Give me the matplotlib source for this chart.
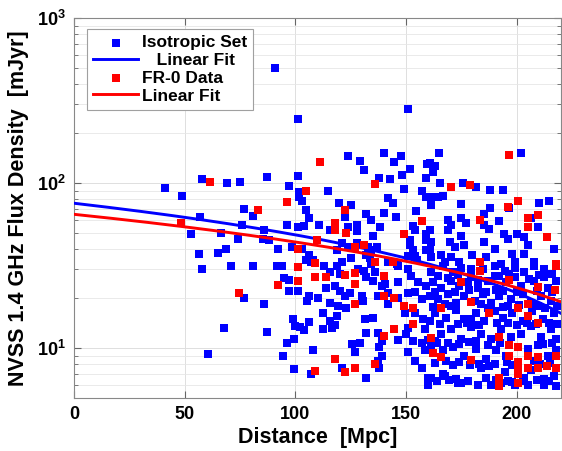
import numpy as np
import matplotlib
matplotlib.use("Agg")
import matplotlib.pyplot as plt

plt.rcParams["font.family"] = ["Liberation Sans", "DejaVu Sans"]
plt.rcParams["font.weight"] = "bold"
plt.rcParams["mathtext.fontset"] = "custom"
plt.rcParams["mathtext.rm"] = "Liberation Sans:bold"
plt.rcParams["mathtext.it"] = "Liberation Sans:bold"
plt.rcParams["mathtext.bf"] = "Liberation Sans:bold"
plt.rcParams["mathtext.sf"] = "Liberation Sans:bold"

# Isotropic set: distance [Mpc] and NVSS flux [mJy]
iso_dist = [
    91, 101, 151, 41, 49, 58, 69, 75, 87, 97,
    101, 101.6, 101.6, 103, 105, 106, 104, 101, 96, 76.6,
    81, 76, 57, 66.5, 74, 53, 86, 85.6, 88, 92,
    98.6, 103, 68.5, 65, 56.6, 106, 105, 107, 71, 81,
    91.5, 94, 58, 95, 97, 97, 101, 77, 86, 106,
    105.4, 99, 100, 102, 104, 106, 67.6, 87, 99.4, 96.4,
    108, 60.5, 94.6, 99.4, 107,
    123.6, 129, 131, 140, 144.6, 147.6, 152, 159.6, 137.7, 142.6,
    148, 158.9, 114.6, 149, 157, 159, 142, 144, 119.7, 125,
    154.5, 140, 132, 134, 145.6, 122.4, 110.7, 128, 124, 138.4,
    128, 115.6, 135, 153, 154, 152, 152, 153, 154, 159,
    159, 159, 121, 124, 128, 133, 134, 137, 108, 119,
    121, 125, 132, 133.6, 134, 142, 146, 151, 155,
    165, 202, 161, 163, 162, 165.5, 175.7, 181.7, 188, 193.7,
    160.7, 164.4, 166.7, 161.4, 175, 188, 185.4, 196.7, 210, 214.7,
    169, 170.4, 175, 177, 185.4, 187.7, 192, 160.7, 161.4, 160.7,
    169, 169.7, 175, 194.4, 196, 200, 203.5, 205, 203.5, 209.5,
    206.4, 216.7, 172, 176.4, 185.4, 190, 161.4, 166, 170.4, 180,
    186, 198, 199, 208, 193, 167.4, 174,
    113, 118.6, 115.6, 120, 114, 118, 120, 122.4, 128.4, 131,
    132, 130, 130.6, 136, 139, 137.4, 115.6, 119.4, 123, 112.6,
    115.6, 118.6, 118, 131.4, 135, 142, 146.4, 151, 149.4, 154,
    157.7, 146.4, 150, 153, 157, 158.4, 151, 132, 137.4, 139,
    125.4, 129, 127, 138, 139, 137.4, 138, 121, 132, 160,
    160, 167.4, 173.4, 155.4, 159, 157, 151, 152.4, 146.4,
    110.4, 112.6, 116.4, 124.6, 142, 146.4, 135, 140.4, 154, 158.4,
    160, 151, 154, 157,
    161.4, 166.7, 171, 175, 179.4, 184.7, 190, 194.5, 199, 203.5, 208, 212.5, 216,
    162, 166, 170.4, 174, 178, 182.4, 187, 190.7, 195, 202, 208, 214, 217.7,
    160.7, 164.4, 169, 172.7, 176.4, 181, 184.7, 188.4, 192, 197.4, 202.7, 206.4, 211, 215.5,
    163, 168, 172.7, 176.4, 181.7, 185.4, 190, 193.7, 198, 202.7, 207, 211.7, 217,
    166, 170.4, 175, 179.4, 184, 188.4, 193, 202, 206.4, 211, 215.5,
    161.4, 166.7, 171, 176.4, 181.7, 186, 190.7, 195, 205, 209.5, 214, 217.7,
    161.4, 166.7, 172.7, 184, 186, 194.5, 198, 203.5, 206.4, 212.5, 217, 188.4, 193, 205, 212.5,
    164.4, 179.4, 190, 199, 212.5, 167.4, 184, 196, 209.5, 160.7, 179.4, 196, 214.7,
    163, 181.7, 197.4, 217.7, 168, 178.7, 190, 198, 208, 175, 182.4, 199, 217.7,
    168.9, 173.4, 182.4, 192.2, 196.7, 205.7, 210.2,
    163, 172, 178.5, 186, 194, 200, 209, 216,
    162, 170.5, 187, 194, 201, 213, 218,
    165.5, 173.5, 177.5, 183, 191, 200, 204.5, 208.5, 218,
    164, 168.8, 173.8, 178.5, 187, 192.5, 212, 216,
    163, 171, 174, 183, 187.5, 195.5, 210.7, 215,
    164, 169.5, 178, 190.5, 196, 203, 209, 214.5,
]
iso_flux = [
    495, 245, 279, 93, 84, 106, 100, 102, 109, 96,
    111, 88, 82, 78, 69, 61, 55, 54, 56, 70,
    63, 56, 62, 50, 46, 49, 52, 46, 45, 40,
    41, 40, 40, 37.5, 37, 36.5, 34, 33, 31.6, 31.6,
    31.6, 31.6, 30, 26.6, 26, 22.3, 22.3, 20, 18.6, 20.7,
    19.2, 15, 13.6, 13.4, 12.9, 14.3, 13.2, 12.5, 11.3, 10.8,
    9.7, 9.2, 8.9, 7.5, 7.0,
    145, 136, 120, 152, 135, 146, 121, 131, 107, 106,
    112, 107, 89, 92, 89, 82, 81, 76, 76, 74,
    68, 66, 65, 60, 62, 62, 56, 56, 54, 54,
    51, 52, 47.5, 55, 52, 45, 42, 39, 36, 49.3,
    45, 39, 43, 41, 43, 41, 39, 41, 34, 39,
    33, 35, 36.5, 35, 32.5, 33, 32.5, 36, 34,
    152, 152, 132, 127, 117, 99.6, 99.6, 94, 90.6, 90.6,
    82, 82, 84, 73.4, 74.5, 71, 65.3, 71, 76, 78,
    59.4, 55.5, 61.7, 57, 55.5, 53, 59, 51.6, 44, 39,
    51.6, 44, 48, 49, 46, 49, 47, 42, 37.3, 54,
    61, 40, 41, 42, 44, 40, 35.5, 36.5, 35.5, 36.5,
    35.5, 37.3, 33, 33, 32.5, 33, 33,
    31.5, 31.5, 28.7, 28, 23, 23.7, 22.2, 20.7, 30, 29.4,
    26.8, 20.7, 19.3, 28.7, 23.8, 20.7, 18.7, 18, 17.6, 16.3,
    14.6, 15.6, 13.7, 15, 15.3, 18.4, 20, 21.6, 16.3, 16.3,
    15, 11.2, 12.2, 11.1, 10.8, 9.7, 13.3, 12.4, 12.4, 11,
    10.6, 10.8, 9.5, 10.1, 9.0, 8.4, 7.6, 7.6, 6.6, 6.6,
    6.0, 6.8, 6.1, 25, 23.8, 19.8, 30, 27.4, 31.5,
    20, 13, 13.3, 21.6, 21.6, 25, 25.5, 24.3, 22, 13,
    11.2, 9.5, 8.3, 7.6,
    28.7, 31.5, 28.7, 30.7, 30, 30, 31.5, 29.3, 30.7, 28.7, 31.5, 30, 28,
    25, 23, 25.6, 23.8, 25, 23, 25.6, 22.5, 25, 23.8, 25.6, 23, 25.6,
    20.7, 19.8, 21.2, 18.7, 20.7, 19.3, 21.2, 18.7, 20.7, 19.8, 21.2, 18.7, 20.7, 19.3,
    16.3, 15.3, 17.1, 15.0, 16.3, 14.6, 16.7, 15.3, 16.3, 14.6, 16.7, 15.0, 16.3,
    12.2, 13.0, 11.4, 13.4, 12.2, 11.4, 13.0, 12.2, 13.6, 11.6, 13.0,
    10.4, 9.7, 10.2, 9.0, 9.9, 8.6, 9.7, 9.0, 9.9, 10.4, 9.0, 9.7,
    6.6, 7.0, 6.5, 7.6, 6.6, 7.2, 6.2, 6.6, 7.4, 6.5, 6.8, 6.0, 6.1, 6.0, 6.0,
    27.4, 26.8, 27.4, 26.8, 26.8, 18.4, 18.4, 18, 18, 14.6, 15, 14.2, 14.2,
    11.1, 11.1, 11.6, 11.3, 8.3, 7.9, 8.0, 7.9, 8.3, 6.1, 6.0, 6.0, 5.9,
    26.5, 27.8, 26.0, 27.2, 28.0, 26.3, 27.6,
    22, 21.8, 22.4, 21.9, 22.3, 21.7, 22.1, 21.8,
    17.8, 17.9, 17.5, 17.8, 18.2, 17.6, 17.9,
    14.0, 13.9, 14.1, 13.8, 14.2, 13.7, 14.1, 13.9, 14.0,
    10.8, 10.7, 10.6, 10.9, 10.5, 10.8, 10.6, 10.7,
    8.1, 7.9, 8.2, 8.0, 7.8, 8.2, 8.0, 8.1,
    6.3, 6.4, 6.3, 6.4, 6.35, 6.3, 6.4, 6.3,
]

# FR-0 sources
fr0_dist = [
    61.6, 111, 105, 96.4, 83, 48.5, 101, 101, 109, 109,
    101, 92, 74.6, 109, 136, 122.4, 118, 118, 123, 157,
    149, 131, 109.6, 127, 136, 144, 196.4, 170.4, 179, 196,
    200.7, 183.5, 205, 209.5, 205, 213.6, 183.5, 217.7, 114, 122.4,
    127, 127, 140, 140, 144.6, 127, 149, 153, 153, 144.6,
    140, 118, 122.4, 127, 136, 183.6, 175, 196.4, 217.7, 209.5,
    217.4, 179.4, 166, 205, 200.7, 187.7, 205, 209.5, 192, 161.4,
    196.7, 200.7, 196.7, 162, 166, 179.4, 200.7, 200.7, 205, 209.5,
    205, 209.5, 213.6, 217.7, 217.7, 192, 192, 200.7, 200.7,
]
fr0_flux = [
    102, 134, 90, 77, 69, 57, 40, 31, 32.6, 26.9,
    25.3, 24.1, 21.6, 7.3, 98, 69, 57.3, 52, 50, 59,
    49.4, 42, 45, 41, 33, 33, 147, 95, 97, 72,
    78, 60, 61.4, 64, 54, 47, 33, 32.5, 26.8, 27.6,
    28.3, 24.4, 27.4, 20.7, 20, 18.4, 18, 17.6, 14.0, 13.1,
    11.8, 8.6, 7.2, 7.6, 8.0, 29.3, 25, 25.9, 31.5, 23.5,
    22.6, 19, 17.6, 18.4, 17.4, 16.3, 15.6, 14.2, 11.6, 11.5,
    10.4, 10.2, 9.0, 9.3, 8.8, 8.5, 8.2, 7.6, 9.0, 8.8,
    7.6, 7.6, 7.8, 9.0, 7.6, 6.6, 5.9, 7.0, 6.1,
]
assert len(iso_dist) == len(iso_flux)
assert len(fr0_dist) == len(fr0_flux)

# linear fits: intercept, slope (mJy per Mpc)
iso_fit = [75.4, -0.269]
fr0_fit = [64.6, -0.207]

fig = plt.figure(figsize=(5.62, 4.51), dpi=100)
ax = fig.add_axes([0.1317, 0.1182, 0.8665, 0.8419])

xs = np.linspace(0, 220, 300)
ax.scatter(iso_dist, iso_flux, marker="s", s=34, c="#0000ff", linewidths=0,
           zorder=3, label="Isotropic Set")
ax.plot(xs, iso_fit[0] + iso_fit[1] * xs, color="#0000ff", lw=2.1, zorder=4,
        label="   Linear Fit")
ax.scatter(fr0_dist, fr0_flux, marker="s", s=34, c="#ff0000", linewidths=0,
           zorder=5, label="FR-0 Data")
ax.plot(xs, fr0_fit[0] + fr0_fit[1] * xs, color="#ff0000", lw=2.1, zorder=6,
        label="Linear Fit")

ax.set_yscale("log")
ax.set_xlim(0, 220)
ax.set_ylim(5, 1000)
ax.set_xticks([0, 50, 100, 150, 200])

ax.grid(True, which="major", color="#dedede", lw=0.7)
ax.grid(True, which="minor", axis="y", color="#e6e6e6", lw=0.6)
ax.set_axisbelow(True)

ax.tick_params(which="both", direction="in", top=True, right=True,
               color="#666666", labelsize=13, pad=6)
ax.tick_params(which="major", length=5)
ax.tick_params(which="minor", length=3)
for sp in ax.spines.values():
    sp.set_color("#888888")
    sp.set_linewidth(0.8)

ax.set_xlabel("Distance  [Mpc]", fontsize=15.5, fontweight="bold", labelpad=3)
ax.set_ylabel("NVSS 1.4 GHz Flux Density  [mJyr]", fontsize=15.5,
              fontweight="bold", labelpad=6)

leg = ax.legend(loc="upper left", bbox_to_anchor=(0.027, 0.971), borderaxespad=0,
                fontsize=12.5, fancybox=False, framealpha=1, edgecolor="#a0a0a0",
                handlelength=2.6, handletextpad=0.2, labelspacing=0.15,
                borderpad=0.35, scatterpoints=1)
leg.get_frame().set_linewidth(0.8)

fig.savefig("out.png", dpi=100)
